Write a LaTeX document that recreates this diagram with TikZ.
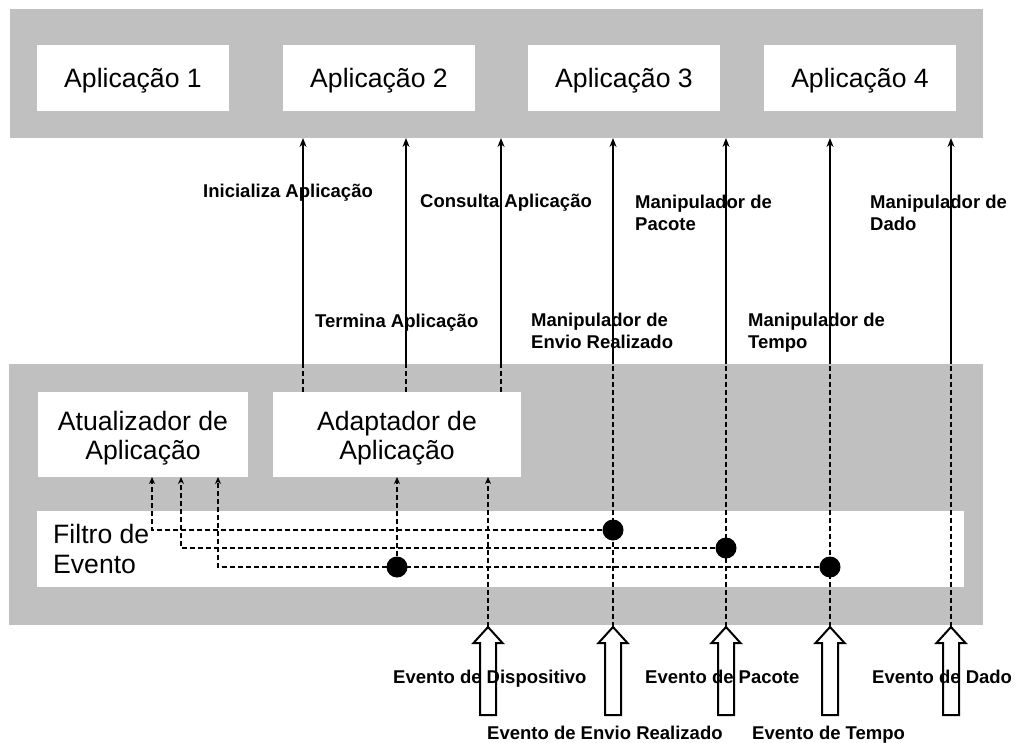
\documentclass[tikz,border=0pt]{standalone}
\usepackage{fontspec}
\setmainfont{Liberation Sans}
\usetikzlibrary{arrows.meta}
\definecolor{panelgray}{RGB}{192,192,192}
\begin{document}
\begin{tikzpicture}[x=1pt,y=-1pt,
  panel/.style={fill=panelgray, draw=none, inner sep=0pt, outer sep=0pt, anchor=north west},
  whitebox/.style={fill=white, draw=none, inner sep=0pt, outer sep=0pt, anchor=north west,
    align=center, font=\fontsize{26.6}{29}\selectfont},
  appbox/.style={whitebox, minimum width=192, minimum height=66, text height=20pt, text depth=0pt},
  modbox/.style={whitebox, minimum height=85, text height=49pt, text depth=0pt},
  bigtext/.style={font=\fontsize{26.6}{30}\selectfont, align=left, anchor=base west, inner sep=0pt},
  lbl/.style={font=\bfseries\fontsize{18.5}{21.5}\selectfont, align=left, anchor=base west, inner sep=0pt},
  call/.style={line width=2pt, -{Stealth[length=9pt,width=7pt]}},
  flow/.style={line width=1.1pt, dash pattern=on 5pt off 3pt},
  flowin/.style={flow, -{Stealth[length=7pt,width=6pt]}},
  junction/.style={circle, fill=black, minimum size=21pt, inner sep=0pt},
  evarrow/.pic={\draw[line width=2pt, line join=miter]
    (0,0) -- (14.5,16) -- (8,16) -- (8,88) -- (-8,88) -- (-8,16) -- (-14.5,16) -- cycle;}
]
\useasboundingbox (0,0) rectangle (1016,743);

% application layer
\node[panel, minimum width=973, minimum height=129] (apps) at (10,9) {};
\node[appbox] (app1) at (37,45) {Aplicação 1};
\node[appbox] (app2) at (283,45) {Aplicação 2};
\node[appbox] (app3) at (528,45) {Aplicação 3};
\node[appbox] (app4) at (764,45) {Aplicação 4};

% middleware layer
\node[panel, minimum width=974, minimum height=261] (core) at (9,364) {};
\node[modbox, minimum width=210] (upd) at (38,392) {Atualizador de\\Aplicação};
\node[modbox, minimum width=248] (adp) at (273,392) {Adaptador de\\Aplicação};
\node[whitebox, minimum width=927, minimum height=76] (filter) at (37,511) {};
\node[bigtext] (filterlbl) at (53,573) {Filtro de\\Evento};

% handler labels
\node[lbl] (lInit) at (203,198) {Inicializa Aplicação};
\node[lbl] (lCons) at (420,208) {Consulta Aplicação};
\node[lbl] (lTerm) at (315,327) {Termina Aplicação};
\node[lbl] (lEnvio) at (531,348) {Manipulador de\\Envio Realizado};
\node[lbl] (lPac) at (635,230) {Manipulador de\\Pacote};
\node[lbl] (lTempo) at (748,348) {Manipulador de\\Tempo};
\node[lbl] (lDado) at (870,230) {Manipulador de\\Dado};

% event labels
\node[lbl] (eDisp) at (393,683) {Evento de Dispositivo};
\node[lbl] (eEnvio) at (487,739) {Evento de Envio Realizado};
\node[lbl] (ePac) at (645,683) {Evento de Pacote};
\node[lbl] (eTempo) at (752,739) {Evento de Tempo};
\node[lbl] (eDado) at (872,683) {Evento de Dado};

% incoming events
\coordinate (evdisp) at (488,627);
\coordinate (evenvio) at (613,627);
\coordinate (evpac) at (726,627);
\coordinate (evtempo) at (830,627);
\coordinate (evdado) at (951,627);
\foreach \e in {evdisp,evenvio,evpac,evtempo,evdado} \pic at (\e) {evarrow};

% adapter calls into the applications
\foreach \x in {303,406,501} {
  \draw[flow] (adp.north -| \x,0) -- (core.north -| \x,0);
  \draw[call] (core.north -| \x,0) -- (apps.south -| \x,0);
}

% event handlers reaching the applications
\foreach \e in {evenvio,evpac,evtempo,evdado} {
  \draw[flow] (\e) -- (core.north -| \e);
  \draw[call] (core.north -| \e) -- (apps.south -| \e);
}

% event filter taps
\coordinate (updin1) at (upd.south -| 152,0);
\coordinate (updin2) at (upd.south -| 181,0);
\coordinate (updin3) at (upd.south -| 218,0);
\node[junction] (jenvio) at (613,530) {};
\node[junction] (jpac) at (726,548) {};
\node[junction] (jtempo) at (830,567) {};
\node[junction] (jadp) at (397,567) {};
\draw[flowin] (jenvio) -| (updin1);
\draw[flowin] (jpac) -| (updin2);
\draw[flowin] (jtempo) -| (updin3);
\draw[flowin] (jadp) -- (adp.south -| jadp);
\draw[flowin] (evdisp) -- (adp.south -| evdisp);

\end{tikzpicture}
\end{document}
